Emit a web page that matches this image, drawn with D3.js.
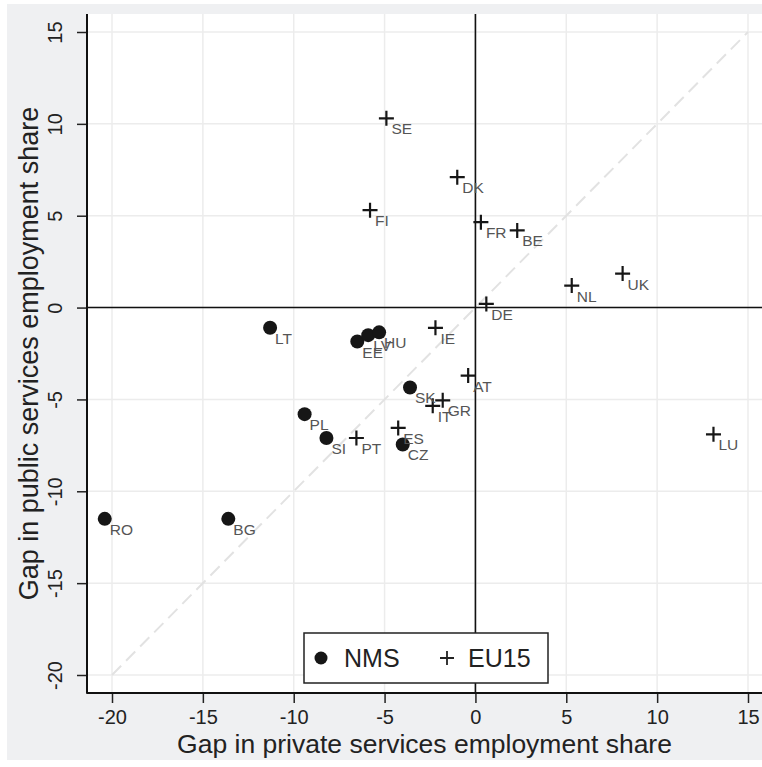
<!DOCTYPE html>
<html>
<head>
<meta charset="utf-8">
<script src="https://cdn.jsdelivr.net/npm/d3@7"></script>
<style>
  body { margin: 0; background: #fff; }
  text { font-family: "Liberation Sans", Arial, sans-serif; }
</style>
</head>
<body>
<div id="chart"></div>
<script>
// NMS countries (circles)
const nmsCodes   = ["RO", "BG", "LT", "EE", "LV", "HU", "SK", "PL", "SI", "CZ"]
const nmsPrivate = [-20.4, -13.6, -11.3, -6.5, -5.9, -5.3, -3.6, -9.4, -8.2, -4.0]
const nmsPublic  = [-11.5, -11.5, -1.1, -1.85, -1.5, -1.35, -4.35, -5.8, -7.1, -7.45]

// EU15 countries (plus)
const euCodes   = ["SE", "FI", "DK", "FR", "BE", "NL", "UK", "DE", "IE", "AT", "GR", "IT", "ES", "PT", "LU"]
const euPrivate = [-4.9, -5.8, -1.0, 0.3, 2.3, 5.3, 8.1, 0.6, -2.2, -0.4, -1.8, -2.35, -4.25, -6.55, 13.1]
const euPublic  = [10.3, 5.3, 7.1, 4.65, 4.2, 1.2, 1.85, 0.2, -1.1, -3.7, -5.05, -5.35, -6.55, -7.1, -6.9]

const xTicks = [-20, -15, -10, -5, 0, 5, 10, 15]
const yTicks = [-20, -15, -10, -5, 0, 5, 10, 15]
const diagonal = [-20, 15]

const width = 762, height = 767
const plot = {left: 87, right: 762, top: 14, bottom: 693}

let svg = d3.select("#chart")
    .append("svg")
    .attr("width", width)
    .attr("height", height)

// outer graph region
svg.append("rect")
    .attr("x", 7).attr("y", 4)
    .attr("width", width - 7).attr("height", 756)
    .attr("fill", "#eff0f2")

svg.append("rect")
    .attr("x", plot.left).attr("y", plot.top)
    .attr("width", plot.right - plot.left).attr("height", plot.bottom - plot.top)
    .attr("fill", "#fff")

let x = d3.scaleLinear().domain([-20, 15]).range([112, 748])
let y = d3.scaleLinear().domain([-20, 15]).range([675, 32])

// grid
svg.append("g").selectAll("line")
    .data(xTicks)
    .enter()
    .append("line")
    .attr("x1", d => x(d)).attr("x2", d => x(d))
    .attr("y1", plot.top).attr("y2", plot.bottom)
    .style("stroke", "#ececec")
    .style("stroke-width", 1.5)

svg.append("g").selectAll("line")
    .data(yTicks)
    .enter()
    .append("line")
    .attr("y1", d => y(d)).attr("y2", d => y(d))
    .attr("x1", plot.left).attr("x2", plot.right)
    .style("stroke", "#ececec")
    .style("stroke-width", 1.5)

// 45 degree line
svg.append("line")
    .attr("x1", x(diagonal[0])).attr("y1", y(diagonal[0]))
    .attr("x2", x(diagonal[1])).attr("y2", y(diagonal[1]))
    .style("stroke", "#e2e2e2")
    .style("stroke-width", 2)
    .style("stroke-dasharray", "13,7")

// zero lines
svg.append("line")
    .attr("x1", x(0)).attr("x2", x(0))
    .attr("y1", plot.top).attr("y2", plot.bottom)
    .style("stroke", "#111").style("stroke-width", 1.6)
svg.append("line")
    .attr("y1", y(0)).attr("y2", y(0))
    .attr("x1", plot.left).attr("x2", plot.right)
    .style("stroke", "#111").style("stroke-width", 1.6)

// axes
let xAxis = svg.append("g")
    .attr("transform", `translate(0, ${plot.bottom})`)
    .call(d3.axisBottom(x).tickValues(xTicks).tickSize(10).tickPadding(7).tickFormat(d3.format("d")))
xAxis.select(".domain").remove()
xAxis.selectAll("line").style("stroke", "#222").style("stroke-width", 1.5)
xAxis.selectAll("text")
    .style("font-size", "20px")
    .style("fill", "#222")
    .text(d => String(d))

let yAxis = svg.append("g")
    .attr("transform", `translate(${plot.left}, 0)`)
    .call(d3.axisLeft(y).tickValues(yTicks).tickSize(10).tickFormat(d3.format("d")))
yAxis.select(".domain").remove()
yAxis.selectAll("line").style("stroke", "#222").style("stroke-width", 1.5)
yAxis.selectAll("text")
    .attr("x", null).attr("dy", null)
    .attr("transform", "translate(-25, 0) rotate(-90)")
    .style("text-anchor", "middle")
    .style("font-size", "20px")
    .style("fill", "#222")
    .text(d => String(d))

svg.append("line")
    .attr("x1", plot.left).attr("x2", plot.left)
    .attr("y1", plot.top).attr("y2", plot.bottom + 0.8)
    .style("stroke", "#111").style("stroke-width", 2)
svg.append("line")
    .attr("x1", plot.left).attr("x2", plot.right)
    .attr("y1", plot.bottom).attr("y2", plot.bottom)
    .style("stroke", "#111").style("stroke-width", 2)

// axis titles
svg.append("text")
    .attr("x", (plot.left + plot.right) / 2)
    .attr("y", 753)
    .style("text-anchor", "middle")
    .style("font-size", "26.5px")
    .style("fill", "#222")
    .text("Gap in private services employment share")

svg.append("text")
    .attr("transform", `translate(38, ${(plot.top + plot.bottom) / 2}) rotate(-90)`)
    .style("text-anchor", "middle")
    .style("font-size", "27px")
    .style("fill", "#222")
    .text("Gap in public services employment share")

// points
const nms = nmsCodes.map((c, i) => ({code: c, px: nmsPrivate[i], py: nmsPublic[i]}))
const eu = euCodes.map((c, i) => ({code: c, px: euPrivate[i], py: euPublic[i]}))

svg.append("g").selectAll("circle")
    .data(nms)
    .enter()
    .append("circle")
    .attr("cx", d => x(d.px))
    .attr("cy", d => y(d.py))
    .attr("r", 7)
    .attr("fill", "#161616")

svg.append("g").selectAll("path")
    .data(eu)
    .enter()
    .append("path")
    .attr("d", "M-7.5,0H7.5M0,-7.5V7.5")
    .attr("transform", d => `translate(${x(d.px)}, ${y(d.py)})`)
    .style("stroke", "#161616")
    .style("stroke-width", 2.2)
    .style("fill", "none")

svg.append("g").selectAll("text")
    .data(nms.concat(eu))
    .enter()
    .append("text")
    .attr("x", d => x(d.px) + 5)
    .attr("y", d => y(d.py) + 16)
    .style("font-size", "15.5px")
    .style("fill", "#555")
    .text(d => d.code)

// legend
let legend = svg.append("g")
legend.append("rect")
    .attr("x", 304).attr("y", 633)
    .attr("width", 244).attr("height", 50)
    .attr("fill", "#fff")
    .style("stroke", "#222")
    .style("stroke-width", 1.5)
legend.append("circle")
    .attr("cx", 321).attr("cy", 658).attr("r", 6.5)
    .attr("fill", "#161616")
legend.append("text")
    .attr("x", 344).attr("y", 667)
    .style("font-size", "25px").style("fill", "#222")
    .text("NMS")
legend.append("path")
    .attr("d", "M-7,0H7M0,-7V7")
    .attr("transform", "translate(447, 658)")
    .style("stroke", "#222").style("stroke-width", 1.8)
legend.append("text")
    .attr("x", 468).attr("y", 667)
    .style("font-size", "25px").style("fill", "#222")
    .text("EU15")
</script>
</body>
</html>
